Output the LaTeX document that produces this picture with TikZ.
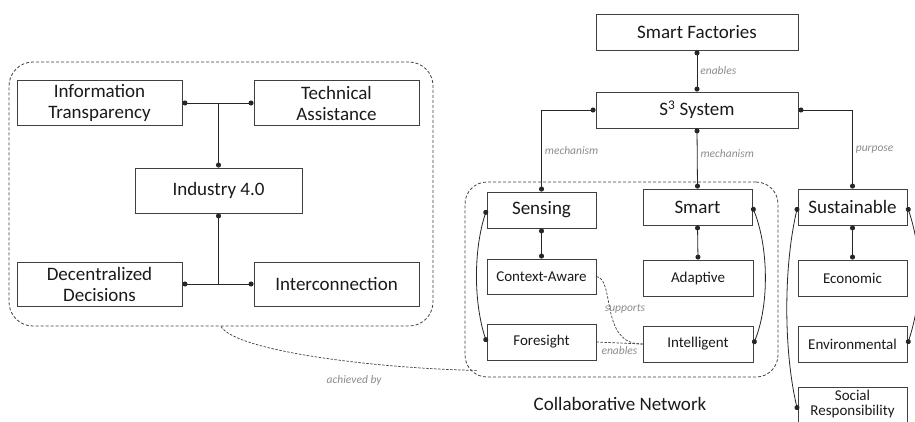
\documentclass[tikz,border=0pt]{standalone}
\usepackage{fontspec}
\setmainfont{Carlito}
\usetikzlibrary{arrows.meta}
\definecolor{boxline}{HTML}{404040}
\definecolor{txt}{HTML}{1A1A1A}
\definecolor{lbl}{HTML}{8C8C8C}
\begin{document}
\begin{tikzpicture}[x=1pt,y=-1pt,
    bigbox/.style={draw=boxline,line width=0.9pt,text=txt,inner sep=0pt,align=center,font=\fontsize{19}{21}\selectfont},
    smallbox/.style={draw=boxline,line width=0.9pt,text=txt,inner sep=0pt,align=center,font=\fontsize{15}{15}\selectfont},
    group/.style={draw=boxline,line width=0.8pt,dash pattern=on 3pt off 2pt,rounded corners=24pt},
    conn/.style={line width=0.8pt,draw=black!85},
    dots/.style={{Circle[length=5pt]}-{Circle[length=5pt]}},
    enddot/.style={-{Circle[length=5pt]}},
    startdot/.style={{Circle[length=5pt]}-},
    relline/.style={line width=0.7pt,draw=boxline,dash pattern=on 2.5pt off 1.5pt},
    rel/.style={font=\fontsize{11.5}{12}\selectfont\itshape,text=lbl,inner sep=3pt},
  ]
  \useasboundingbox (0,0) rectangle (915,421);
  \clip (0,0) rectangle (915,421);

  % groups
  \node[group,minimum width=424,minimum height=264] (i40grp) at (221,194) {};
  \node[group,minimum width=313,minimum height=195,rounded corners=22pt] (cn) at (621.5,279.5) {};
  \node[text=txt,font=\fontsize{19}{21}\selectfont] (cnlabel) at (620,404) {Collaborative Network};

  % Industry 4.0
  \node[bigbox,minimum width=165,minimum height=45] (it) at (99.5,103) {Information\\Transparency};
  \node[bigbox,minimum width=165,minimum height=45] (ta) at (336.5,103) {Technical\\Assistance};
  \node[bigbox,minimum width=167,minimum height=45] (ind) at (218.5,190.5) {Industry 4.0};
  \node[bigbox,minimum width=165,minimum height=44] (dd) at (99.5,284) {Decentralized\\Decisions};
  \node[bigbox,minimum width=165,minimum height=44] (ic) at (336.5,284) {Interconnection};

  \draw[conn,dots] (it.east) -- (ta.west);
  \draw[conn,enddot] (it.east -| ind.north) -- (ind.north);
  \draw[conn,dots] (dd.east) -- (ic.west);
  \draw[conn,startdot] (ind.south) -- (dd.east -| ind.south);

  % S3 system
  \node[bigbox,minimum width=202,minimum height=36] (sf) at (697,32) {Smart Factories};
  \node[bigbox,minimum width=202,minimum height=36] (s3) at (697,110) {S\textsuperscript{3} System};
  \node[bigbox,minimum width=109,minimum height=36] (sen) at (541.5,210) {Sensing};
  \node[bigbox,minimum width=109,minimum height=36] (sma) at (697.5,207) {Smart};
  \node[bigbox,minimum width=109,minimum height=36] (sus) at (852.5,207) {Sustainable};

  \node[smallbox,minimum width=109,minimum height=35] (ca) at (541.5,276.5) {Context-Aware};
  \node[smallbox,minimum width=110,minimum height=36] (ada) at (698,278) {Adaptive};
  \node[smallbox,minimum width=109,minimum height=36] (fore) at (541.5,342) {Foresight};
  \node[smallbox,minimum width=110,minimum height=36] (intl) at (698,344) {Intelligent};
  \node[smallbox,minimum width=109,minimum height=36] (eco) at (852.5,278) {Economic};
  \node[smallbox,minimum width=109,minimum height=36] (env) at (852.5,344) {Environmental};
  \node[smallbox,minimum width=109,minimum height=46,text depth=15pt] (soc) at (852.5,410) {Social\\Responsibility};

  \draw[conn,dots] (sf.south) -- node[rel,right]{enables} (s3.north);
  \draw[conn,dots] (s3.west) -| node[rel,right,pos=0.75]{mechanism} (sen.north);
  \draw[conn,dots] (s3.south) -- node[rel,right,pos=0.41]{mechanism} (sma.north);
  \draw[conn,dots] (s3.east) -| node[rel,right,pos=0.75]{purpose} (sus.north);

  \draw[conn,dots] (sen.south) -- (ca.north);
  \draw[conn,dots] (sma.south) -- (ada.north);
  \draw[conn,dots] (sus.south) -- (eco.north);
  \draw[conn,dots] (sen.west) .. controls +(-13,40) and +(-13,-40) .. (fore.west);
  \draw[conn,dots] (sma.east) .. controls +(16,40) and +(16,-40) .. (intl.east);
  \draw[conn,dots] (sus.west) .. controls +(-14,60) and +(-14,-60) .. (soc.west);
  \draw[conn,dots] (sus.east) .. controls +(15,45) and +(15,-45) .. (env.east);

  % dashed relations
  \draw[relline] (ca.east) .. controls +(19,3) and +(-43,1) .. node[rel,anchor=west,inner sep=0pt,pos=0.45,xshift=-5pt,yshift=-2pt]{supports} (intl.west);
  \draw[relline] (fore.east) -- node[rel,below]{enables} (intl.west);
  \draw[relline] (i40grp.south) .. controls +(15,25) and +(-100,-2) .. node[rel,pos=0.62,below=10pt]{achieved by} ([shift={(12,-7)}]cn.south west);
\end{tikzpicture}
\end{document}
